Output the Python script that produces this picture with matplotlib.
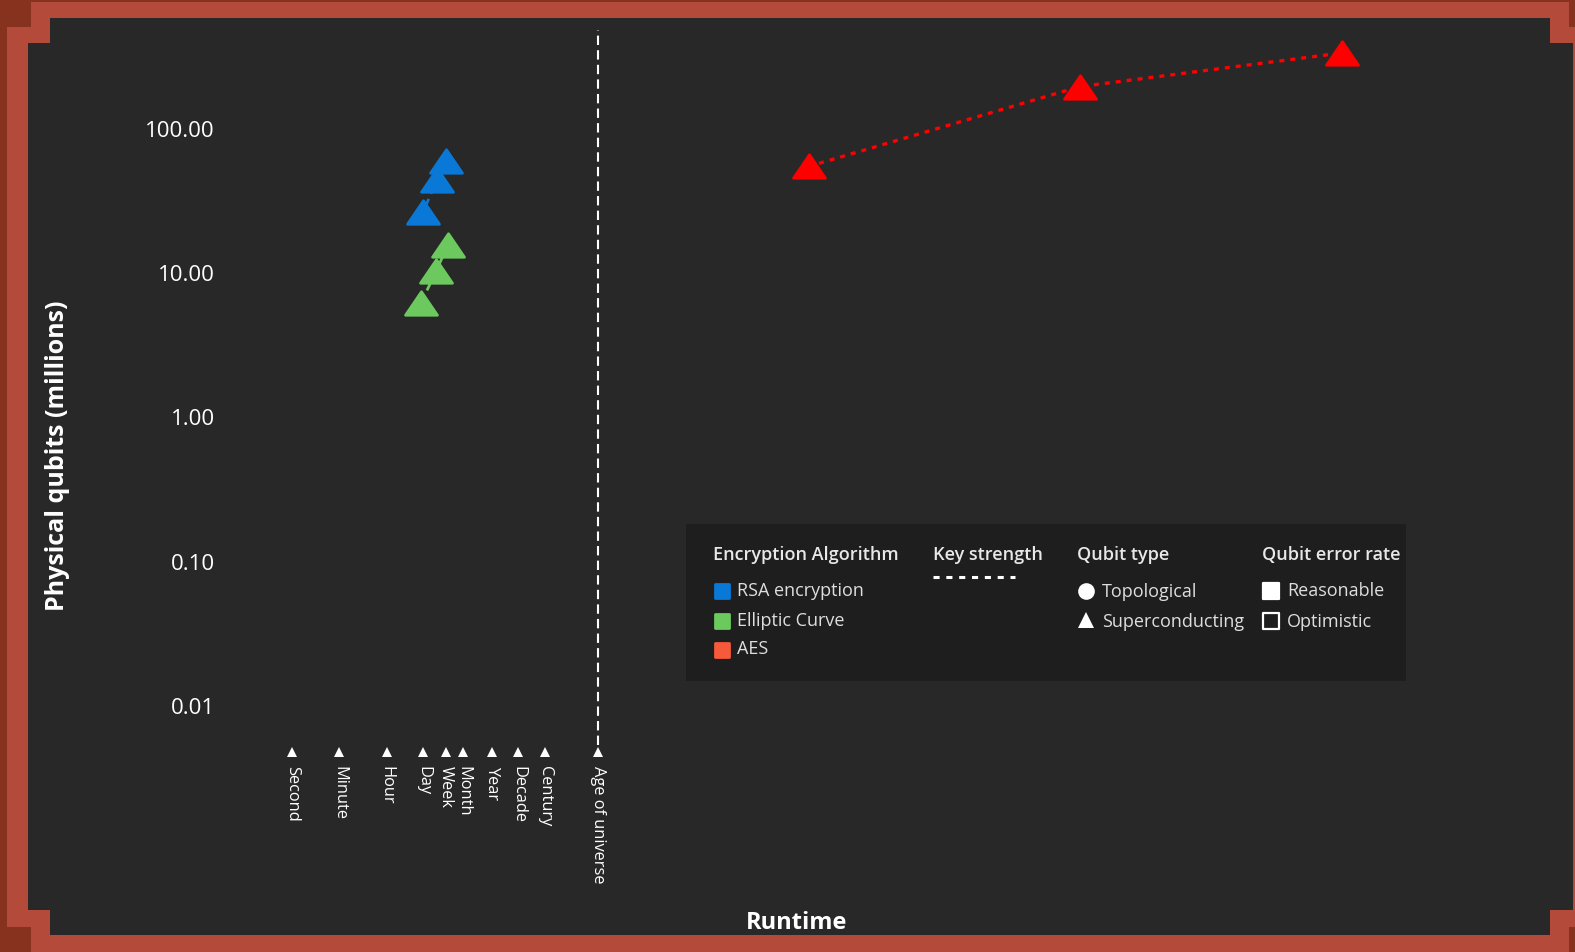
import matplotlib.pyplot as plt
import numpy as np
from matplotlib.patches import Rectangle
from matplotlib.lines import Line2D
from matplotlib.path import Path
from matplotlib.markers import MarkerStyle
from matplotlib.ticker import NullLocator
from matplotlib.transforms import blended_transform_factory

plt.rcParams['font.family'] = ['Open Sans', 'DejaVu Sans']

W, H = 1575, 952

# x axis: runtime in seconds (log), y axis: physical qubits in millions (log)
tick_names = ['Second', 'Minute', 'Hour', 'Day', 'Week', 'Month', 'Year',
              'Decade', 'Century', 'Age of universe']
tick_secs = [1, 60, 3600, 86400, 604800, 2.63e6, 3.156e7, 3.156e8, 3.156e9, 3.16e11]

y_ticks = [0.01, 0.1, 1, 10, 100]
y_tick_labels = ['0.01', '0.10', '1.00', '10.00', '100.00']

rsa_runtime = [6.1e5, 2.8e5, 8.4e4]
rsa_qubits = [59.6, 44.0, 26.4]
ecc_runtime = [7.2e5, 2.6e5, 7.1e4]
ecc_qubits = [15.6, 10.3, 6.2]
aes_runtime = [2.4e19, 3.5e29, 2.5e39]
aes_qubits = [54.6, 195, 334]

enc_labels = ['RSA encryption', 'Elliptic Curve', 'AES']
qubit_types = ['Topological', 'Superconducting']
error_rates = ['Reasonable', 'Optimistic']

blue = '#0a78d6'
green = '#6cc95e'
aes_legend = '#f65a3a'
red = '#ff0000'

fig = plt.figure(figsize=(W / 100, H / 100), dpi=100, facecolor='#86321f')


def fx(px):
    return px / W


def fy(py):
    return 1 - py / H


def frect(x0, y0, x1, y1, color, z):
    fig.add_artist(Rectangle((fx(x0), fy(y1)), fx(x1) - fx(x0), fy(y0) - fy(y1),
                             transform=fig.transFigure, color=color, lw=0, zorder=z))


# frame
frect(31, 2, 1569, 952, '#b44a3a', -10)
frect(7, 27, 1575, 927, '#b44a3a', -10)
frect(50, 18, 1550, 935, '#282828', -9)
frect(28, 43, 1573, 910, '#282828', -9)

ax = fig.add_axes([fx(240), fy(752), fx(1540) - fx(240), fy(25) - fy(752)])
ax.set_facecolor('none')
ax.set_xscale('log')
ax.set_yscale('log')
ax.set_xlim(10 ** -1.939, 10 ** 46.81)
ax.set_ylim(10 ** -2.318, 10 ** 2.717)
for s in ax.spines.values():
    s.set_visible(False)

ax.set_xticks(tick_secs, tick_names, rotation=-90)
ax.set_yticks(y_ticks, y_tick_labels)
ax.xaxis.set_minor_locator(NullLocator())
ax.yaxis.set_minor_locator(NullLocator())
ax.tick_params(axis='x', length=0, pad=10, labelsize=11.8, labelcolor='white')
ax.tick_params(axis='y', length=0, pad=18, labelsize=16, labelcolor='white')

trans = blended_transform_factory(ax.transData, ax.transAxes)
ax.plot(tick_secs, [0] * len(tick_secs), '^', color='white', ms=6.5, mew=0,
        transform=trans, clip_on=False)
ax.axvline(tick_secs[-1], ymin=0.0096, ymax=0.993, color='white', lw=1.5,
           ls=(0, (4.5, 2.5)))

tri = MarkerStyle(Path([(0, 0.735), (-1, -0.735), (1, -0.735), (0, 0.735)],
                       [Path.MOVETO, Path.LINETO, Path.LINETO, Path.CLOSEPOLY]),
                  joinstyle='round')

ax.plot(rsa_runtime, rsa_qubits, color=blue, ls=(0, (3, 2)), lw=2, marker=tri,
        ms=23, mew=2, zorder=3)
ax.plot(ecc_runtime, ecc_qubits, color=green, ls=(0, (3, 2)), lw=2, marker=tri,
        ms=23, mew=2, zorder=3)
ax.plot(aes_runtime, aes_qubits, color=red, ls=(0, (1.5, 1.8)), lw=2.4, marker=tri,
        ms=23, mew=2, zorder=3)

fig.text(fx(797), fy(923), 'Runtime', ha='center', va='center', fontsize=17,
         fontweight='bold', color='white')
fig.text(fx(58), fy(456), 'Physical qubits (millions)', ha='center', va='center',
         rotation=90, fontsize=18, fontweight='bold', color='white')

# legend panel
frect(686, 524, 1406, 681, '#1e1e1e', 5)
tc = '#e8e8e8'
lc = '#dedede'
for x, t in zip([713, 933, 1077, 1262],
                ['Encryption Algorithm', 'Key strength', 'Qubit type', 'Qubit error rate']):
    fig.text(fx(x), fy(555), t, ha='left', va='center', fontsize=13,
             fontweight='semibold', color=tc, zorder=6)

rows = [591, 620.5, 649.5]
for lab, col, y in zip(enc_labels, [blue, green, aes_legend], rows):
    fig.add_artist(Line2D([fx(722)], [fy(y)], marker=MarkerStyle('s', joinstyle='round'),
                          ms=10.5, mew=2, color=col, transform=fig.transFigure, zorder=6))
    fig.text(fx(737), fy(y), lab, ha='left', va='center', fontsize=13, color=lc, zorder=6)

fig.add_artist(Line2D([fx(933), fx(1015)], [fy(577), fy(577)], color='white', lw=2.2,
                      ls=(0, (2, 2.2)), transform=fig.transFigure, zorder=6))

for lab, mk, ym, yt in zip(qubit_types, ['o', '^'], [590.5, 619.5], [592, 622]):
    fig.add_artist(Line2D([fx(1086)], [fy(ym)], marker=mk, ms=12, mew=0, color='white',
                          transform=fig.transFigure, zorder=6))
    fig.text(fx(1102), fy(yt), lab, ha='left', va='center', fontsize=13, color=lc, zorder=6)

for lab, fc, ym, yt in zip(error_rates, ['white', 'none'], [590.5, 620.5], [591.5, 622]):
    fig.add_artist(Line2D([fx(1271)], [fy(ym)], marker=MarkerStyle('s', joinstyle='round'),
                          ms=11, mew=1.6, color='white', mfc=fc,
                          transform=fig.transFigure, zorder=6))
    fig.text(fx(1287), fy(yt), lab, ha='left', va='center', fontsize=13, color=lc, zorder=6)

fig.savefig('out.png', dpi=100, facecolor=fig.get_facecolor())
